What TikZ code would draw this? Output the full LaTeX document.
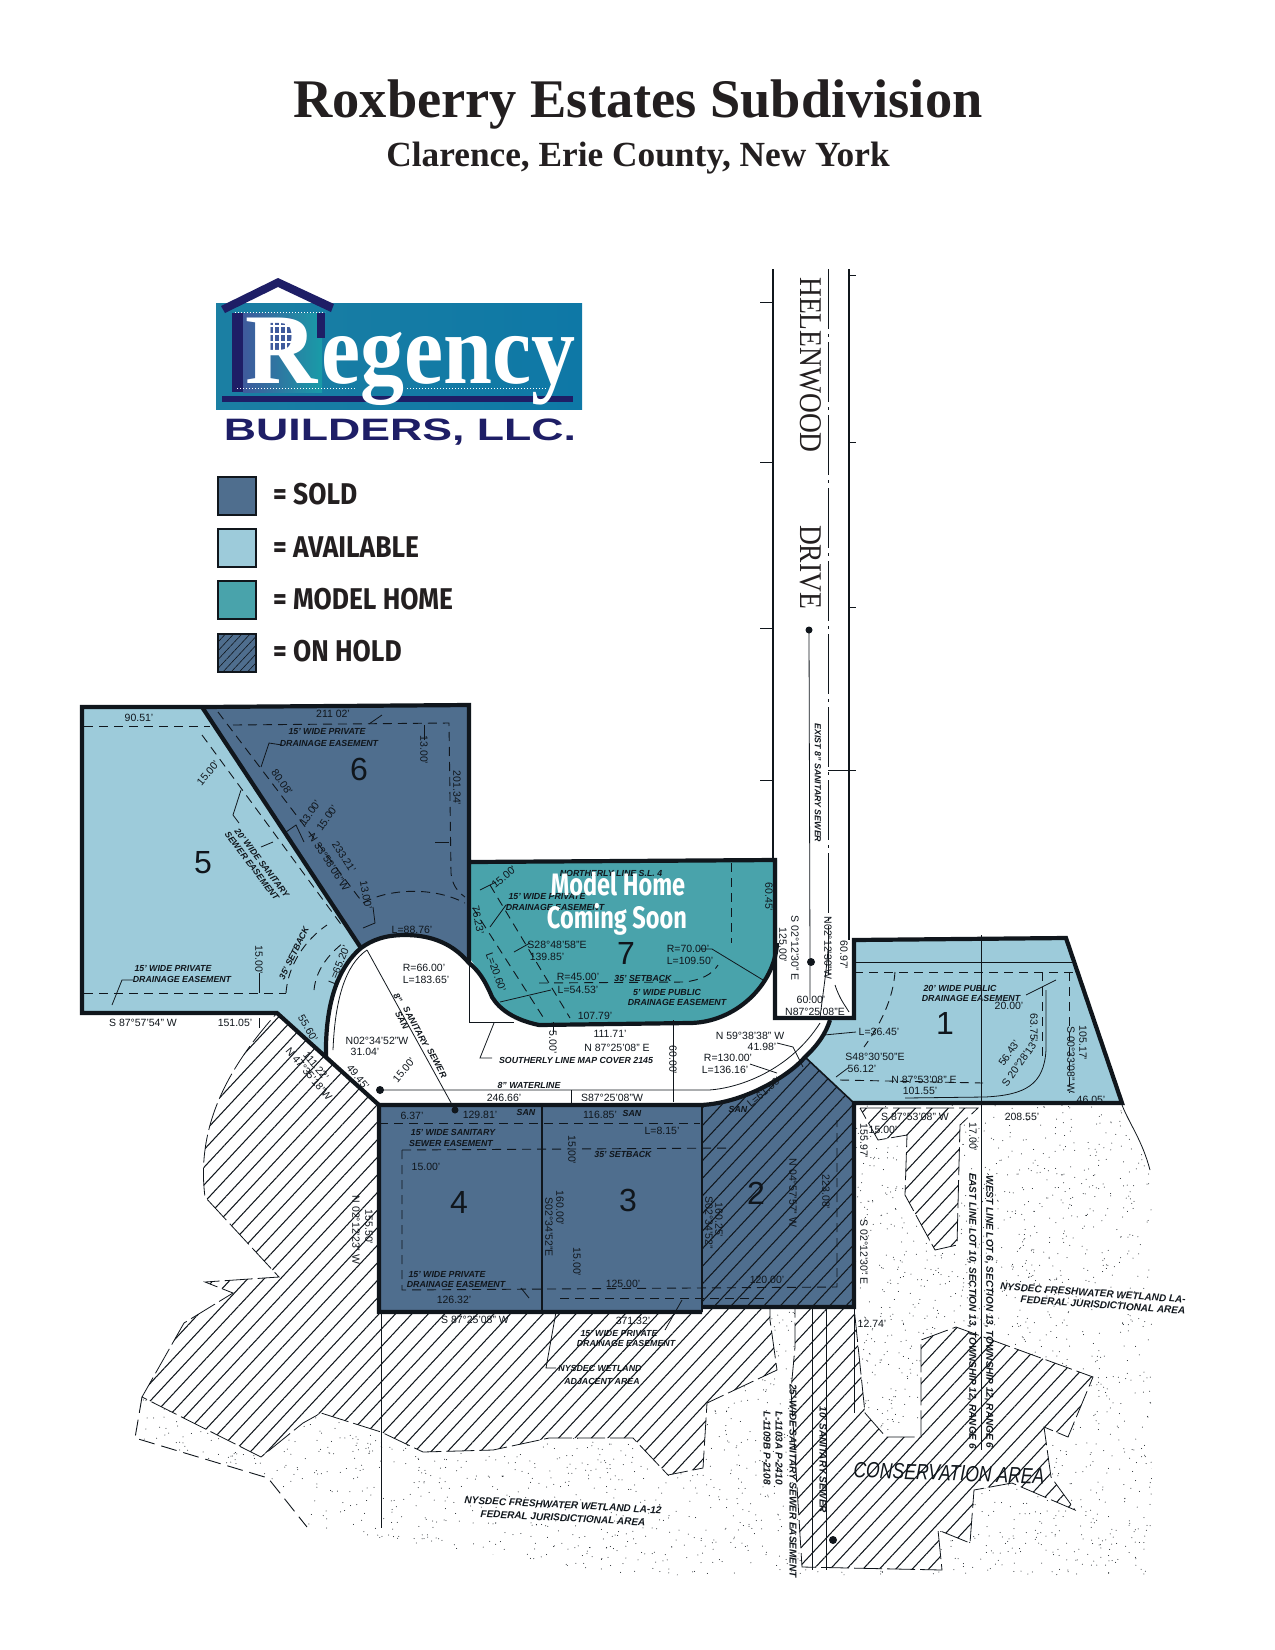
\documentclass[tikz,border=0pt]{standalone}
\usepackage{fontspec}
\usepackage{xcolor}
\usetikzlibrary{patterns.meta}
\setmainfont{Liberation Serif}
\setsansfont{Liberation Sans}
\newfontfamily\legendfont{Fira Sans}
\definecolor{soldcolor}{HTML}{4F6E8E}
\definecolor{availcolor}{HTML}{9DCBDA}
\definecolor{modelcolor}{HTML}{49A3AB}
\definecolor{navycolor}{HTML}{1E1E66}
\definecolor{inkcolor}{HTML}{231F20}
\definecolor{platcolor}{HTML}{10161C}
\definecolor{logoleft}{HTML}{1B7FA3}
\definecolor{logomid}{HTML}{199BA8}
\definecolor{logoright}{HTML}{0E78A6}
\definecolor{logoblue}{HTML}{3F5A9C}
\tikzset{
  lotedge/.style={line width=4.2pt, platcolor},
  thinline/.style={line width=0.8pt, platcolor},
  setback/.style={line width=0.9pt, platcolor, dash pattern=on 9pt off 6pt},
  hatchzone/.style={fill=white, dash pattern=on 28pt off 5pt, postaction={pattern={Lines[angle=47,distance=12pt,line width=1.05pt]}, pattern color=platcolor}},
  legendbox/.style={draw=platcolor, line width=2.8pt, minimum width=38pt, minimum height=38pt, inner sep=0pt},
  legendtext/.style={anchor=base west, inner sep=0pt, inkcolor},
  dimlabel/.style={inner sep=0pt, platcolor, font=\sffamily\fontsize{10.5}{10.5}\selectfont},
  platlabel/.style={inner sep=0pt, platcolor, font=\sffamily\bfseries\itshape\fontsize{8.8}{9}\selectfont},
  platbig/.style={inner sep=0pt, platcolor, font=\sffamily\bfseries\itshape\fontsize{10}{11}\selectfont},
  lotnum/.style={inner sep=0pt, platcolor, font=\sffamily\fontsize{32}{32}\selectfont},
}
\begin{document}
\begin{tikzpicture}[x=1pt,y=-1pt]
\useasboundingbox (0,0) rectangle (1275,1650);
% title
\node[inkcolor, inner sep=0pt, anchor=base] (title) at (638,117) {\fontsize{54.4}{54}\selectfont\bfseries Roxberry Estates Subdivision};
\node[inkcolor, inner sep=0pt, anchor=base] (subtitle) at (638,166) {\fontsize{35.3}{36}\selectfont\bfseries Clarence, Erie County, New York};
% logo
\shade[left color=logoleft, middle color=logomid, right color=logoright] (216,303) rectangle (582,409);
\shade[left color=logoblue, right color=logomid] (243,313) rectangle (322,392);
\fill[navycolor] (222,396) rectangle (573,402);
\fill[navycolor] (232,313) rectangle (243,392);
\fill[navycolor] (317,313) rectangle (325,338);
\fill[navycolor] (221,306) -- (278,278) -- (334,304) -- (331,312) -- (278,287) -- (225,313) -- cycle;
\draw[white, line width=1pt, dotted] (235,312) -- (325,312);
\draw[white, line width=1pt, dotted] (237,388) -- (355,388) (407,388) -- (547,388);
\fill[logoblue] (268,318) rectangle (292,350);
\draw[white, line width=1.2pt] (274,318) -- (274,350) (280,318) -- (280,350) (286,318) -- (286,350) (268,326) -- (292,326) (268,334) -- (292,334) (268,342) -- (292,342);
\node[white, inner sep=0pt, anchor=base west] (logoa) at (245,383) {\fontsize{100}{100}\selectfont\bfseries R};
\node[white, inner sep=0pt, anchor=base west] (logob) at (321,383) {\fontsize{100}{100}\selectfont\bfseries\scalebox{0.88}[1]{egency}};
\node[navycolor, inner sep=0pt, anchor=base] (logoc) at (400,440) {\sffamily\bfseries\fontsize{31}{31}\selectfont\scalebox{1.44}[1]{BUILDERS, LLC.}};
% legend
\node[legendbox, fill=soldcolor] (keysold) at (237,496) {};
\node[legendbox, fill=availcolor] (keyavail) at (237,548) {};
\node[legendbox, fill=modelcolor] (keymodel) at (237,600) {};
\node[legendbox, fill=soldcolor, postaction={pattern={Lines[angle=47,distance=6pt,line width=0.6pt]}, pattern color=platcolor}] (keyhold) at (237,653) {};
\node[legendtext] (txtsold) at (273,504.5) {\legendfont\bfseries\fontsize{30}{30}\selectfont\scalebox{0.88}[1]{= SOLD}};
\node[legendtext] (txtavail) at (273,557) {\legendfont\bfseries\fontsize{30}{30}\selectfont\scalebox{0.88}[1]{= AVAILABLE}};
\node[legendtext] (txtmodel) at (273,609) {\legendfont\bfseries\fontsize{30}{30}\selectfont\scalebox{0.88}[1]{= MODEL HOME}};
\node[legendtext] (txthold) at (273,661) {\legendfont\bfseries\fontsize{30}{30}\selectfont\scalebox{0.88}[1]{= ON HOLD}};
% stipple of the wetland
\begin{scope}
  \clip (135,1438) -- (268,1478) -- (307,1527) -- (630,1575) -- (1152,1575) -- (1152,1175) .. controls (1140,1140) and (1130,1120) .. (1122,1105) -- (854,1105) -- (854,1200) -- (379,1200) -- (142,1397) -- cycle;
  \pgfmathsetseed{11}
  \foreach \i in {1,...,5200} {\fill[platcolor] ({130+1025*rnd},{1105+470*rnd}) circle (0.5);}
\end{scope}
\draw[thinline] (1122,1105) .. controls (1130,1125) and (1142,1140) .. (1150,1170);
\draw[setback, dash pattern=on 16pt off 7pt] (142,1397) -- (135,1438) -- (268,1478) -- (307,1527);
% hatched areas
\draw[thinline, hatchzone] (277,1013) -- (379,1105) -- (379,1312) -- (770,1307) -- (770,1320) -- (777,1370) -- (707,1403) -- (703,1468) -- (668,1475) -- (633,1438) -- (549,1438) -- (493,1450) -- (423,1452) -- (381,1432) -- (321,1413) -- (303,1423) -- (261,1457) -- (142,1397) -- (184,1323) -- (233,1293) -- (205,1282) -- (279,1277) -- (205,1197) .. controls (195,1120) and (235,1060) .. (277,1013);
\draw[thinline, hatchzone] (795,1307) -- (854,1307) -- (865,1413) -- (886,1437) -- (921,1437) -- (921,1340) -- (956,1327) -- (1093,1377) -- (1068,1437) -- (1044,1427) -- (1051,1477) -- (1075,1510) -- (1012,1483) -- (974,1490) -- (970,1543) -- (938,1530) -- (942,1570) -- (802,1567) -- (791,1390) -- (795,1347) -- cycle;
\draw[thinline, hatchzone] (860,1108) -- (978,1108) -- (960,1125) -- (957,1245) -- (935,1250) -- (905,1195) -- (907,1135) -- (878,1140) -- cycle;
% road
\draw[line width=2pt, platcolor] (773,269) -- (773,860);
\draw[line width=2pt, platcolor] (849,269) -- (849,940);
\draw[line width=0.9pt, platcolor, dash pattern=on 60pt off 5pt on 3pt off 5pt] (828,269) -- (828,975);
\draw[thinline] (809,630) -- (810,962) -- (810,1000);
\fill[platcolor] (809,630) circle (3.5) (811,962) circle (4);
\draw[thinline] (760,302) -- (773,302) (760,462) -- (773,462) (760,628) -- (773,628) (760,780) -- (773,780);
\draw[thinline] (849,275) -- (856,275) (849,442) -- (856,442) (849,607) -- (856,607) (828,770) -- (856,770);
\draw[thinline] (828,950) .. controls (826,975) and (822,1000) .. (820,1018) (835,985) .. controls (840,1000) and (845,1005) .. (849,1012);
\node[inner sep=0pt, rotate=-90, inkcolor] (roadhelen) at (811,365) {\fontsize{27.5}{28}\selectfont\scalebox{1}[1.15]{HELENWOOD}};
\node[inner sep=0pt, rotate=-90, inkcolor] (roaddrive) at (811,567) {\fontsize{27.5}{28}\selectfont\scalebox{1}[1.15]{DRIVE}};
% lots
\path[fill=availcolor] (82,707) -- (202,707) -- (361,948) .. controls (335,970) and (325,1010) .. (326,1058) -- (277,1013) -- (82,1013) -- cycle;
\path[fill=soldcolor] (202,707) -- (469,705) -- (469,963) .. controls (450,940) and (425,935) .. (405,935) .. controls (385,935) and (372,940) .. (361,948) -- cycle;
\path[fill=modelcolor] (471,862) -- (777,860) -- (777,943) .. controls (775,985) and (735,1023) .. (689,1023) -- (539,1025) .. controls (515,1020) and (500,1010) .. (492,997) .. controls (485,980) and (478,970) .. (471,960) -- cycle;
\path[fill=availcolor] (854,940) -- (1066,938) -- (1122,1103) -- (854,1103) -- (805,1057) .. controls (818,1045) and (826,1033) .. (830,1020) -- (856,1018) -- cycle;
\path[fill=soldcolor] (379,1105) -- (701,1105) -- (702,1312) -- (379,1312) -- cycle;
\path[fill=soldcolor, postaction={pattern={Lines[angle=47,distance=12pt,line width=1.05pt]}, pattern color=platcolor}] (701,1105) .. controls (745,1103) and (790,1075) .. (805,1057) -- (854,1103) -- (854,1305) -- (702,1305) -- cycle;
\draw[lotedge] (361,948) -- (202,707) -- (82,707) -- (82,1013) -- (277,1013) -- (379,1105) -- (379,1312) -- (702,1312) (702,1307) -- (854,1307) -- (854,1103) -- (1122,1103) -- (1066,938) -- (854,940) -- (854,1018) -- (775,1018) -- (775,860) -- (471,862) (469,963) -- (469,705) -- (202,707);
\draw[lotedge] (326,1058) .. controls (325,1010) and (335,970) .. (361,948) .. controls (372,940) and (385,935) .. (405,935) .. controls (425,935) and (450,940) .. (469,963) .. controls (478,970) and (485,980) .. (492,997) .. controls (500,1010) and (515,1020) .. (539,1025) -- (689,1023) .. controls (735,1023) and (775,985) .. (777,943);
\draw[lotedge] (379,1105) -- (701,1105) .. controls (745,1103) and (790,1075) .. (805,1057) .. controls (818,1045) and (826,1033) .. (830,1020);
\draw[line width=1.6pt, platcolor] (542,1105) -- (542,1312) (702,1105) -- (702,1312) (805,1057) -- (854,1103);
\draw[thinline] (469,963) -- (469,1022) -- (514,1022);
% setbacks and easements
\draw[setback] (84,726) -- (210,726);
\draw[setback] (202,735) -- (343,927);
\draw[setback] (218,712) -- (363,903);
\draw[setback] (233,725) -- (449,723) -- (451,873) .. controls (452,885) and (458,892) .. (465,897);
\draw[setback] (363,903) .. controls (385,890) and (430,885) .. (465,903);
\draw[setback] (84,993) -- (286,993);
\draw[setback] (286,993) .. controls (288,965) and (305,940) .. (327,925);
\draw[setback] (314,990) .. controls (316,970) and (328,955) .. (343,943);
\draw[setback] (473,908) -- (543,1017);
\draw[setback] (490,885) -- (570,1018);
\draw[setback] (539,983) -- (685,982) .. controls (700,980) and (712,975) .. (718,965);
\draw[setback] (731,863) -- (731,943);
\draw[setback] (854,972) -- (1073,972);
\draw[setback] (895,972) .. controls (893,1000) and (880,1025) .. (864,1047);
\draw[setback] (1069,972) -- (1069,1093);
\draw[setback] (1042,972) -- (1042,1060);
\draw[setback] (840,1080) -- (983,1083);
\draw[thinline] (854,962) -- (1072,962);
\draw[thinline] (905,1098) -- (985,1097) .. controls (1025,1095) and (1044,1085) .. (1046,1050) -- (1046,990);
\draw[thinline] (981,935) -- (981,1450);
\draw[setback] (379,1123) -- (700,1123);
\draw[setback] (402,1150) -- (732,1148);
\draw[setback] (402,1150) -- (402,1290) -- (837,1287) -- (837,1120);
\draw[setback] (560,1298) -- (767,1298);
% sewer, waterline, leaders
\draw[thinline] (367,950) .. controls (345,965) and (335,1000) .. (333,1050);
\draw[thinline] (367,950) -- (455,1110);
\fill[platcolor] (455,1110) circle (3.5) (380,1090) circle (4);
\draw[thinline] (380,1090) -- (709,1090) .. controls (740,1088) and (790,1070) .. (820,1023);
\draw[thinline] (494,1023) -- (480,1058) -- (492,1058);
\draw[thinline] (571,1090) -- (571,1103) (673,1020) -- (673,1102) (553,1022) -- (553,1034);
\draw[thinline] (381,1312) -- (381,1528);
\draw[thinline] (826,1307) -- (826,1570) (812,1307) -- (812,1570) (854,1307) -- (854,1413);
\fill[platcolor] (833,1540) circle (4);
\draw[thinline] (112,1005) -- (122,980) -- (133,980);
\draw[thinline] (700,949) -- (712,949) -- (763,980);
\draw[thinline] (500,1002) -- (551,990);
\draw[thinline] (282,745) -- (269,743) -- (261,767);
\draw[thinline] (241,790) -- (233,815) -- (239,823);
\draw[thinline] (382,715) -- (369,724);
\draw[thinline] (424,725) -- (424,740) (435,842) -- (449,842) (259,973) -- (259,993) (259,1018) -- (259,1028);
\draw[thinline] (373,907) -- (375,923) -- (363,928);
\draw[thinline] (286,832) -- (296,825) -- (304,842) (261,847) -- (273,842);
\draw[thinline] (480,890) -- (496,882) (490,927) -- (506,905) -- (510,905) (514,952) -- (530,943);
\draw[thinline] (824,1035) -- (856,1032) (836,1077) -- (848,1068) (1026,995) -- (1056,980);
\draw[thinline] (750,1064) -- (777,1073) (777,1043) -- (793,1047) -- (803,1067);
\draw[thinline] (521,1288) -- (529,1298) (682,1300) -- (665,1330);
\draw[thinline] (556,1312) -- (546,1368) -- (556,1368);
% lot numbers
\node[lotnum] (lotone) at (945,1023) {1};
\node[lotnum] (lottwo) at (756,1193) {2};
\node[lotnum] (lotthree) at (628,1200) {3};
\node[lotnum] (lotfour) at (459,1202) {4};
\node[lotnum] (lotfive) at (203,863) {5};
\node[lotnum] (lotsix) at (359,769) {6};
\node[lotnum] (lotseven) at (626,953) {7};
% dimensions
\foreach \px/\py/\rot/\txt [count=\n] in {
  139/718/0/90.51', 333/714/0/211 02', 424/750/-90/13.00', 457/788/-90/201.34', 208/773/50/15.00', 282/782/-55/80.08',
  310/813/55/13.00', 327/818/55/15.00', 344/857/-57/233.21', 329/862/-57/N 33°58'06"W, 366/895/-80/13.00', 412/930/0/L=88.76',
  339/965/68/L=65.20', 259/960/-90/15.00', 143/1023/0/S 87°57'54" W, 235/1023/0/151.05', 308/1028/-60/55.60',
  424/968/0/R=66.00', 426/980/0/L=183.65', 377/1041/0/N02°34'52"W, 365/1052/0/31.04', 316/1066/-50/111.22', 309/1074/-50/N 47°35'18"W,
  358/1077/-50/49.45', 404/1070/50/15.00', 504/1098/0/246.66', 612/1098/0/S87°25'08"W, 610/1034/0/111.71', 617/1048/0/N 87°25'08" E,
  553/1042/-90/5.00', 412/1116/0/6.37', 480/1115/0/129.81', 600/1115/0/116.85', 504/877/40/15.00', 557/945/0/S28°48'58"E, 547/957/0/139.85',
  578/977/0/R=45.00', 578/990/0/L=54.53', 478/920/-80/76.23', 496/972/-70/L=20.60', 769/897/-90/60.45', 688/949/0/R=70.00', 690/961/0/L=109.50',
  595/1016/0/107.79', 795/948/-90/S 02°12'30" E, 783/945/-90/125.00', 828/948/-90/N02°12'30"W, 844/955/-90/60.97', 811/1000/0/60.00',
  815/1012/0/N87°25'08"E, 750/1036/0/N 59°38'38" W, 762/1047/0/41.98', 728/1058/0/R=130.00', 725/1070/0/L=136.16', 673/1060/-90/60.00',
  879/1032/0/L=36.45', 875/1057/0/S48°30'50"E, 862/1069/0/56.12', 924/1080/0/N 87°53'08" E, 920/1091/0/101.55', 1009/1006/0/20.00',
  1034/1028/-90/63.75', 1009/1053/55/56.43', 1020/1063/55/S 20°28'13", 1083/1043/-90/105.17', 1071/1060/-90/S 00°33'08" W, 1091/1100/0/46.05',
  915/1117/0/S 87°53'08" W, 1022/1117/0/208.55', 883/1130/0/15.00', 864/1141/-90/155.97', 973/1137/-90/17.00', 764/1092/40/L=61.56', 662/1131/0/L=8.15',
  572/1150/-90/15.00', 426/1167/0/15.00', 560/1208/-90/160.00', 549/1227/-90/S02°34'52"E, 719/1220/-90/160.25', 709/1223/-90/S02°34'52",
  793/1193/-90/N 04°57'57" W, 826/1192/-90/223.08', 577/1262/-90/15.00', 454/1300/0/126.32', 623/1284/0/125.00', 767/1280/0/120.00',
  475/1320/0/S 87°25'08" W, 633/1321/0/371.32', 872/1324/0/12.74', 864/1252/-90/S 02°12'30" E, 356/1230/-90/N 02°12'23" W, 369/1227/-90/155.50'
} \node[dimlabel, rotate=\rot] (dim\n) at (\px,\py) {\txt};
% plat notes
\foreach \px/\py/\rot/\txt [count=\n] in {
  327/732/0/15' WIDE PRIVATE, 329/743/0/DRAINAGE EASEMENT, 262/863/-53/20' WIDE SANITARY, 252/866/-53/SEWER EASEMENT, 294/953/64/35' SETBACK,
  173/969/0/15' WIDE PRIVATE, 182/979/0/DRAINAGE EASEMENT, 398/998/-62/8", 416/1027/-62/SANITARY, 402/1020/-62/SAN, 437/1063/-62/SEWER,
  529/1085/0/8" WATERLINE, 576/1060/0/SOUTHERLY LINE MAP COVER 2145, 526/1112/0/SAN, 632/1113/0/SAN, 453/1132/0/15' WIDE SANITARY, 451/1143/0/SEWER EASEMENT,
  611/873/0/NORTHERLY LINE S.L. 4, 547/897/0/15' WIDE PRIVATE, 555/907/0/DRAINAGE EASEMENT, 643/978/0/35' SETBACK, 667/992/0/5' WIDE PUBLIC, 677/1002/0/DRAINAGE EASEMENT,
  818/783/-90/EXIST 8" SANITARY SEWER, 960/988/0/20' WIDE PUBLIC, 971/998/0/DRAINAGE EASEMENT, 738/1109/0/SAN, 623/1154/0/35' SETBACK,
  447/1274/0/15' WIDE PRIVATE, 456/1284/0/DRAINAGE EASEMENT, 619/1333/0/15' WIDE PRIVATE, 626/1343/0/DRAINAGE EASEMENT, 600/1368/0/NYSDEC WETLAND, 602/1381/0/ADJACENT AREA
} \node[platlabel, rotate=\rot] (note\n) at (\px,\py) {\txt};
\foreach \px/\py/\rot/\txt [count=\n] in {
  1093/1293/-4/NYSDEC FRESHWATER WETLAND LA-, 1103/1305/-4/FEDERAL JURISDICTIONAL AREA, 793/1481/-90/25' WIDE SANITARY SEWER EASEMENT, 779/1448/-90/L-1103A P-2410, 767/1448/-90/L-1109B P-2108,
  823/1460/-90/10' SANITARY SEWER, 563/1505/-3/NYSDEC FRESHWATER WETLAND LA-12, 563/1518/-3/FEDERAL JURISDICTIONAL AREA
} \node[platbig, rotate=\rot] (big\n) at (\px,\py) {\txt};
\node[platbig, rotate=-90] (linewest) at (989,1312) {WEST LINE LOT 6, SECTION 13, TOWNSHIP 12, RANGE 6};
\node[platbig, rotate=-90] (lineeast) at (972,1311) {EAST LINE LOT 10, SECTION 13, TOWNSHIP 12, RANGE 6};
\node[inner sep=0pt, rotate=-2, platcolor] (conservation) at (949,1473) {\sffamily\itshape\fontsize{22}{22}\selectfont\scalebox{0.8}[1]{CONSERVATION AREA}};
% model home note
\node[white, inner sep=0pt, anchor=base] (modelone) at (618,895) {\legendfont\bfseries\fontsize{31}{31}\selectfont\scalebox{0.76}[1]{Model Home}};
\node[white, inner sep=0pt, anchor=base] (modeltwo) at (617,928) {\legendfont\bfseries\fontsize{31}{31}\selectfont\scalebox{0.76}[1]{Coming Soon}};
\end{tikzpicture}
\end{document}
